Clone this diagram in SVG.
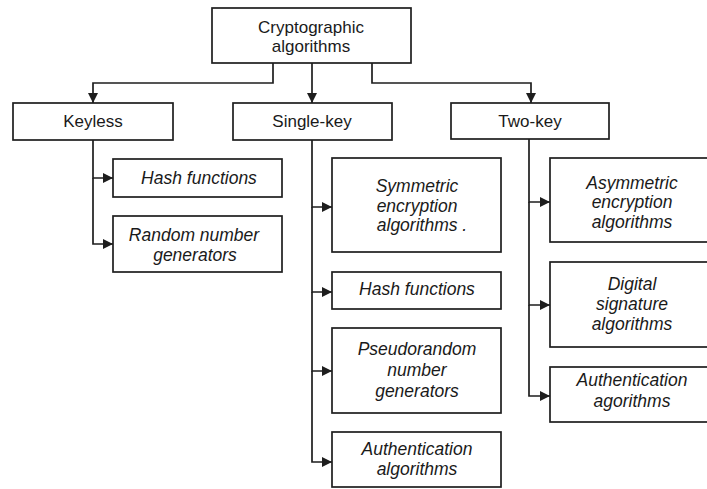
<svg xmlns="http://www.w3.org/2000/svg" width="707" height="489" viewBox="0 0 707 489">
  <style>
    .box { fill: #ffffff; stroke: #1e1e1e; stroke-width: 1.7; }
    .wire { fill: none; stroke: #1e1e1e; stroke-width: 1.7; marker-end: url(#tip); }
    .head { font-family: "Liberation Sans", Arial, sans-serif; font-size: 17px; fill: #1a1a1a; text-anchor: middle; }
    .item { font-family: "Liberation Sans", Arial, sans-serif; font-size: 17.5px; font-style: italic; fill: #1a1a1a; text-anchor: middle; }
  </style>
  <defs>
    <marker id="tip" viewBox="0 0 10 10" refX="10" refY="5" markerWidth="12" markerHeight="10" markerUnits="userSpaceOnUse" orient="auto">
      <path d="M0,0 L10,5 L0,10 Z" fill="#1e1e1e"/>
    </marker>
  </defs>
  <rect width="707" height="489" fill="#ffffff"/>

  <!-- connectors -->
  <g id="connectors">
    <path class="wire" d="M273,63 V83 H93 V103"/>
    <path class="wire" d="M312,63 V103"/>
    <path class="wire" d="M372,63 V83 H531 V103"/>

    <path class="wire" d="M93,140 V178 H113"/>
    <path class="wire" d="M93,178 V244 H113"/>

    <path class="wire" d="M312,140 V207 H332"/>
    <path class="wire" d="M312,207 V292 H332"/>
    <path class="wire" d="M312,292 V371 H332"/>
    <path class="wire" d="M312,371 V462 H332"/>

    <path class="wire" d="M529,139 V202 H550"/>
    <path class="wire" d="M529,202 V305 H550"/>
    <path class="wire" d="M529,305 V396 H550"/>
  </g>

  <!-- root -->
  <g id="root">
    <rect class="box" x="212" y="8" width="199" height="55"/>
    <text class="head" x="311" y="33">Cryptographic</text>
    <text class="head" x="311" y="52">algorithms</text>
  </g>

  <!-- first level -->
  <g id="keyless">
    <rect class="box" x="13" y="103" width="160" height="37"/>
    <text class="head" x="93" y="127">Keyless</text>
  </g>
  <g id="single-key">
    <rect class="box" x="233" y="103" width="159" height="37"/>
    <text class="head" x="312" y="127">Single-key</text>
  </g>
  <g id="two-key">
    <rect class="box" x="451" y="103" width="158" height="36"/>
    <text class="head" x="530" y="127">Two-key</text>
  </g>

  <!-- keyless branch -->
  <g id="keyless-hash">
    <rect class="box" x="113" y="159" width="169" height="38"/>
    <text class="item" x="199" y="184">Hash functions</text>
  </g>
  <g id="keyless-rng">
    <rect class="box" x="113" y="216" width="169" height="56"/>
    <text class="item" x="194" y="241">Random number</text>
    <text class="item" x="195" y="261">generators</text>
  </g>

  <!-- single-key branch -->
  <g id="symmetric">
    <rect class="box" x="332" y="158" width="169" height="94"/>
    <text class="item" x="417" y="192">Symmetric</text>
    <text class="item" x="417" y="212">encryption</text>
    <text class="item" x="422" y="231">algorithms .</text>
  </g>
  <g id="single-hash">
    <rect class="box" x="332" y="272" width="169" height="37"/>
    <text class="item" x="417" y="295">Hash functions</text>
  </g>
  <g id="prng">
    <rect class="box" x="332" y="328" width="169" height="85"/>
    <text class="item" x="417" y="355">Pseudorandom</text>
    <text class="item" x="417" y="376">number</text>
    <text class="item" x="417" y="397">generators</text>
  </g>
  <g id="single-auth">
    <rect class="box" x="332" y="432" width="169" height="55"/>
    <text class="item" x="417" y="455">Authentication</text>
    <text class="item" x="417" y="475">algorithms</text>
  </g>

  <!-- two-key branch -->
  <g id="asymmetric">
    <rect class="box" x="550" y="158" width="165" height="84"/>
    <text class="item" x="632" y="189">Asymmetric</text>
    <text class="item" x="632" y="208">encryption</text>
    <text class="item" x="632" y="228">algorithms</text>
  </g>
  <g id="signature">
    <rect class="box" x="550" y="262" width="165" height="85"/>
    <text class="item" x="632" y="290">Digital</text>
    <text class="item" x="632" y="310">signature</text>
    <text class="item" x="632" y="330">algorithms</text>
  </g>
  <g id="two-auth">
    <rect class="box" x="550" y="367" width="165" height="55"/>
    <text class="item" x="632" y="386">Authentication</text>
    <text class="item" x="632" y="407">agorithms</text>
  </g>
</svg>
